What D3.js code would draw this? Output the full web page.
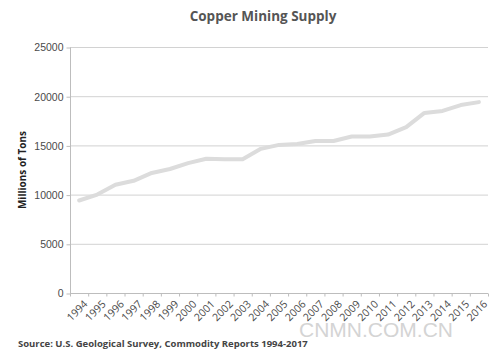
<!DOCTYPE html>
<html>
<head>
<meta charset="utf-8">
<title>Copper Mining Supply</title>
<style>
    body { margin: 0; background: #fff; }
    svg { display: block; font-family: "Open Sans", "DejaVu Sans", sans-serif; }
    .grid line { stroke: #d2d2d2; stroke-width: 1px; }
    .axis path, .axis line { stroke: #bdbdbd; }
    .axis text { fill: #4a4a4a; font-size: 10.5px; }
    .line { fill: none; stroke: #dcdcdc; stroke-width: 4px; stroke-linejoin: round; stroke-linecap: round; }
</style>
</head>
<body>
<svg id="container" width="500" height="363"></svg>
<script src="https://cdn.jsdelivr.net/npm/d3@7"></script>
<script>
    // data
    let years = ["1994", "1995", "1996", "1997", "1998", "1999", "2000", "2001", "2002", "2003",
                 "2004", "2005", "2006", "2007", "2008", "2009", "2010", "2011", "2012", "2013",
                 "2014", "2015", "2016"]
    let supply = [9400, 10000, 11000, 11400, 12200, 12600, 13200, 13650, 13600, 13600,
                  14650, 15050, 15150, 15450, 15450, 15900, 15900, 16100, 16850, 18300,
                  18500, 19100, 19400]
    let yTicks = [0, 5000, 10000, 15000, 20000, 25000]

    let svg = d3.select("#container")
    let plotLeft = 70, plotRight = 488, plotTop = 47, plotBottom = 293

    let xScale = d3.scaleBand()
        .domain(years)
        .range([plotLeft, plotRight])

    let yScale = d3.scaleLinear()
        .domain([0, 25000])
        .range([plotBottom, plotTop])

    // gridlines
    svg.append("g")
        .attr("class", "grid")
        .selectAll("line")
        .data(yTicks.filter(d => d > 0))
        .join("line")
        .attr("x1", plotLeft)
        .attr("x2", plotRight)
        .attr("y1", d => yScale(d) + 0.5)
        .attr("y2", d => yScale(d) + 0.5)

    // y axis
    let yAxis = svg.append("g")
        .attr("class", "axis")
        .attr("transform", `translate(${plotLeft + 0.5}, 0.5)`)
        .call(d3.axisLeft(yScale).tickValues(yTicks).tickSize(4).tickPadding(3).tickFormat(d3.format("d")))
    yAxis.select(".domain").attr("d", `M0,${plotTop}V${plotBottom}`)

    // x axis with ticks on band edges
    let xAxis = svg.append("g")
        .attr("class", "axis")
        .attr("transform", `translate(0, ${plotBottom + 0.5})`)
    xAxis.append("path")
        .attr("d", `M${plotLeft},0H${plotRight}`)
    xAxis.selectAll(".tk")
        .data(years.concat(["end"]))
        .join("line")
        .attr("class", "tk")
        .attr("x1", (d, i) => plotLeft + i * xScale.step() + 0.5)
        .attr("x2", (d, i) => plotLeft + i * xScale.step() + 0.5)
        .attr("y1", 0)
        .attr("y2", 3)
    xAxis.selectAll("text")
        .data(years)
        .join("text")
        .attr("transform", d => `translate(${xScale(d) + xScale.bandwidth() / 2 + 4}, 6) rotate(-45)`)
        .attr("text-anchor", "end")
        .attr("dy", "0.7em")
        .text(d => d)

    // line
    let valueline = d3.line()
        .x((d, i) => xScale(years[i]) + xScale.bandwidth() / 2)
        .y(d => yScale(d))

    svg.append("path")
        .datum(supply)
        .attr("class", "line")
        .attr("d", valueline)

    // titles
    svg.append("text")
        .attr("x", 263)
        .attr("y", 21)
        .attr("text-anchor", "middle")
        .attr("font-size", "13.5px")
        .attr("font-weight", "bold")
        .attr("fill", "#555")
        .text("Copper Mining Supply")

    svg.append("text")
        .attr("transform", "translate(26, 170) rotate(-90)")
        .attr("text-anchor", "middle")
        .attr("font-size", "10px")
        .attr("font-weight", "bold")
        .attr("fill", "#222")
        .text("Millions of Tons")

    // watermark
    svg.append("text")
        .attr("x", 376)
        .attr("y", 337)
        .attr("text-anchor", "middle")
        .attr("font-size", "21px")
        .attr("font-family", "Liberation Sans, Arial, sans-serif")
        .attr("fill", "#d4d4d4")
        .text("CNMN.COM.CN")

    svg.append("text")
        .attr("x", 18)
        .attr("y", 347)
        .attr("font-size", "9.5px")
        .attr("font-weight", "bold")
        .attr("fill", "#444")
        .text("Source: U.S. Geological Survey, Commodity Reports 1994-2017")
</script>
</body>
</html>
